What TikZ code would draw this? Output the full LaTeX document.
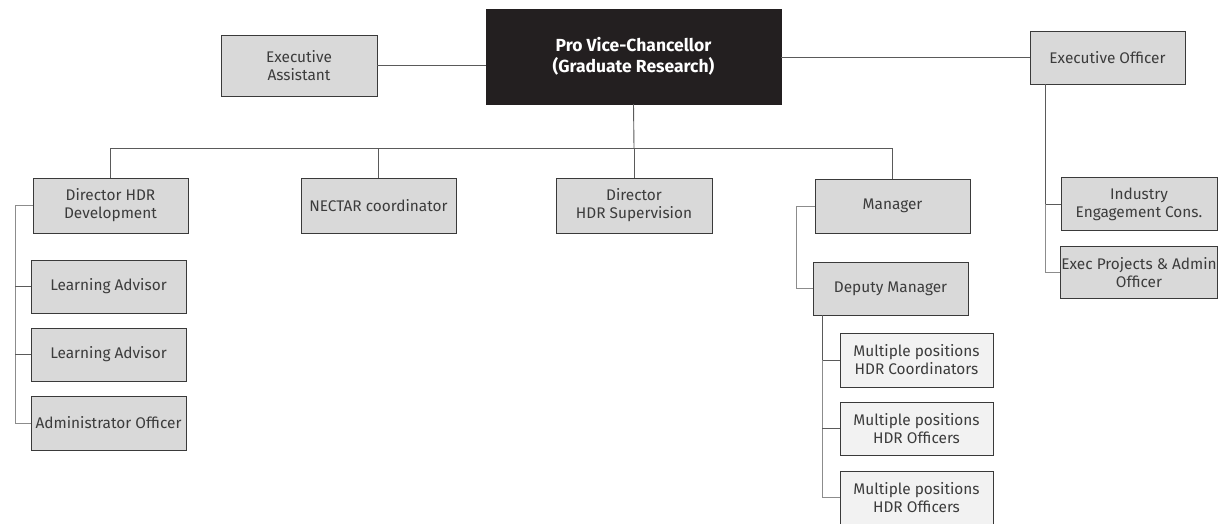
\documentclass[tikz,border=0pt]{standalone}
\usepackage{fontspec}
\setmainfont{Fira Sans}
\usetikzlibrary{calc}
\definecolor{boxfill}{HTML}{D9D9D9}
\definecolor{lightfill}{HTML}{F2F2F2}
\definecolor{headfill}{HTML}{231F20}
\definecolor{edge}{HTML}{3A3A3A}
\definecolor{wire}{HTML}{5A5A5A}
\definecolor{spinewire}{HTML}{8C8C8C}
\definecolor{label}{HTML}{3C3C3C}
\tikzset{
  box/.style={draw=edge, line width=0.9pt, fill=boxfill, align=center,
    font=\fontsize{15.4}{18}\selectfont, text=label, inner sep=1pt},
  subbox/.style={box, fill=lightfill},
  headbox/.style={draw=headfill, fill=headfill, align=center, text=white,
    font=\fontsize{17.5}{21}\selectfont\bfseries, inner sep=1pt},
  wirestyle/.style={draw=wire, line width=0.9pt},
  spine/.style={draw=spinewire, line width=0.9pt},
}
\begin{document}
\begin{tikzpicture}[x=1pt, y=-1pt]
\useasboundingbox (0,0) rectangle (1218,523);
\fill[white] (0,0) rectangle (1218,523);
\clip (0,0) rectangle (1218,523);

% top row
\node[headbox, minimum width=295pt, minimum height=95pt] (pvc) at (633.5,56.5) {Pro Vice-Chancellor\\(Graduate Research)};
\node[box, minimum width=156pt, minimum height=61pt] (ea) at (299,65.5) {Executive\\Assistant};
\node[box, minimum width=155pt, minimum height=53pt] (eo) at (1107.5,57.5) {Executive Officer};

% second row
\node[box, minimum width=155pt, minimum height=55pt] (dhd) at (110.5,205.5) {Director HDR\\Development};
\node[box, minimum width=155pt, minimum height=55pt] (nec) at (378.5,205.5) {NECTAR coordinator};
\node[box, minimum width=156pt, minimum height=55pt] (dhs) at (634,205.5) {Director\\HDR Supervision};
\node[box, minimum width=155pt, minimum height=54pt] (mgr) at (892.5,206) {Manager};

% development team
\node[box, minimum width=155pt, minimum height=53pt] (la1) at (108.5,286.5) {Learning Advisor};
\node[box, minimum width=155pt, minimum height=53pt] (la2) at (108.5,354.5) {Learning Advisor};
\node[box, minimum width=155pt, minimum height=54pt] (ao) at (108.5,423) {Administrator Officer};

% management team
\node[box, minimum width=155pt, minimum height=53pt] (dm) at (890.5,288.5) {Deputy Manager};
\node[subbox, minimum width=153pt, minimum height=54pt] (mp1) at (916.5,360) {Multiple positions\\HDR Coordinators};
\node[subbox, minimum width=153pt, minimum height=53pt] (mp2) at (916.5,428.5) {Multiple positions\\HDR Officers};
\node[subbox, minimum width=153pt, minimum height=53pt] (mp3) at (916.5,497.5) {Multiple positions\\HDR Officers};

% executive officer team
\node[box, minimum width=156pt, minimum height=53pt] (ind) at (1139,204) {Industry\\Engagement Cons.};
\node[box, minimum width=156pt, minimum height=52pt] (exp) at (1139,272.5) {Exec Projects \& Admin\\Officer};

% connectors: top row
\draw[wirestyle] (ea.east) -- (ea.east -| pvc.west);
\draw[wirestyle] (eo.west) -- (eo.west -| pvc.east);

% connectors: bus to second row
\coordinate (bus) at (634,148);
\draw[wirestyle] (pvc.south) -- (bus);
\draw[wirestyle] (dhd.north |- bus) -- (mgr.north |- bus);
\foreach \n in {dhd,nec,dhs,mgr} \draw[wirestyle] (\n.north |- bus) -- (\n.north);

% connectors: development team
\coordinate (ls) at (15,0);
\draw[spine] (dhd.west) -- (ls |- dhd.west) -- (ls |- ao.west) -- (ao.west);
\draw[wirestyle] (ls |- la1.west) -- (la1.west);
\draw[wirestyle] (ls |- la2.west) -- (la2.west);

% connectors: management team
\coordinate (ms) at (796,0);
\draw[spine] (mgr.west) -- (ms |- mgr.west) -- (ms |- dm.west) -- (dm.west);
\coordinate (ds) at (822,0);
\draw[wirestyle] (ds |- dm.south) -- (ds |- mp1.west) -- (mp1.west);
\draw[spine] (ds |- mp1.west) -- (ds |- mp3.west) -- (mp3.west);
\draw[wirestyle] (ds |- mp2.west) -- (mp2.west);

% connectors: executive officer team
\coordinate (es) at (1045,0);
\draw[wirestyle] (es |- eo.south) -- (es |- ind.west) -- (ind.west);
\draw[spine] (es |- ind.west) -- (es |- exp.west) -- (exp.west);
\end{tikzpicture}
\end{document}
